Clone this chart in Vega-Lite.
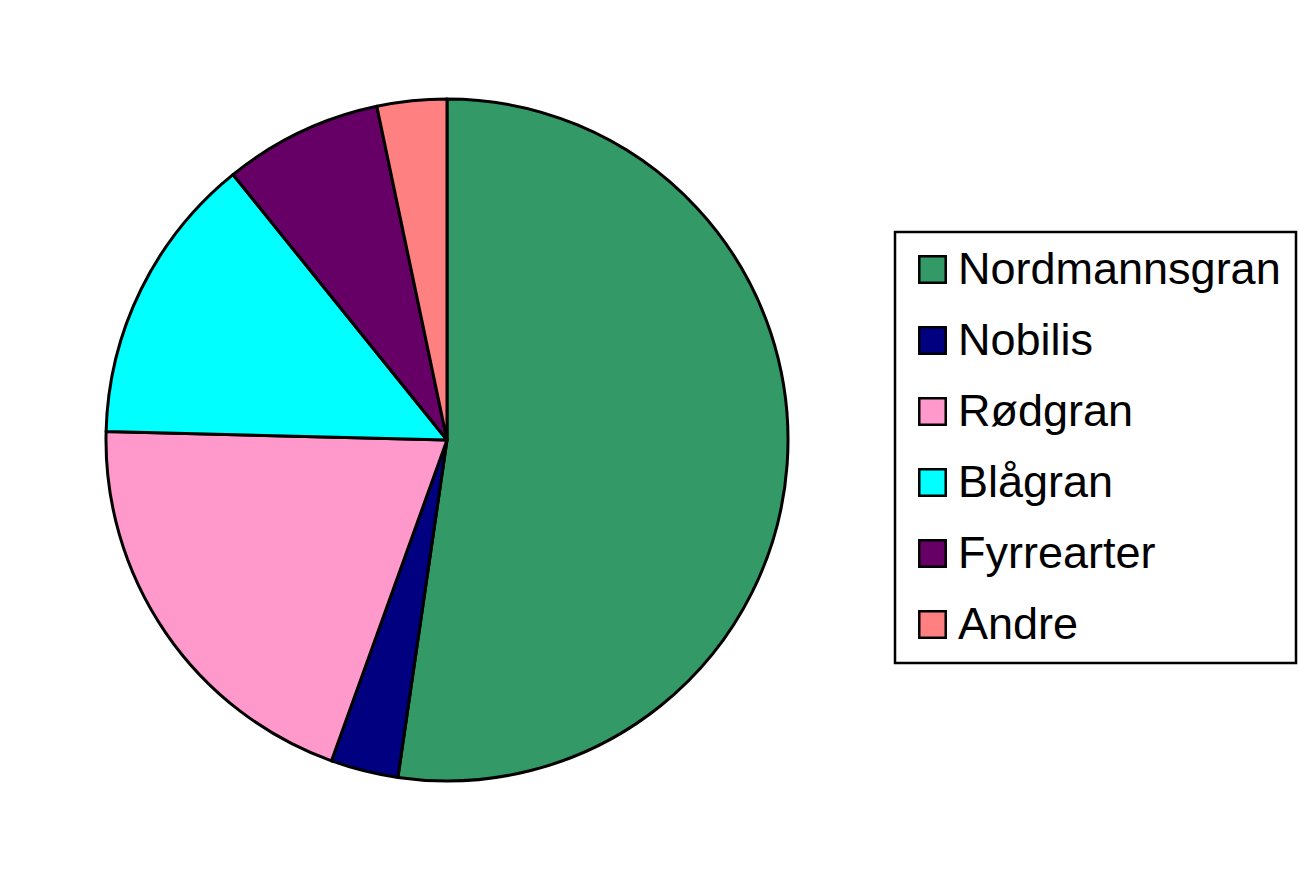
{
  "$schema": "https://vega.github.io/schema/vega-lite/v6.json",
  "width": 894,
  "height": 860,
  "padding": {"left": 0, "top": 10, "right": 0, "bottom": 0},
  "background": "white",
  "data": {
    "values": [
      {"art": "Nordmannsgran", "andel": 52.3, "rekke": 1},
      {"art": "Nobilis", "andel": 3.2, "rekke": 2},
      {"art": "Rødgran", "andel": 19.9, "rekke": 3},
      {"art": "Blågran", "andel": 13.8, "rekke": 4},
      {"art": "Fyrrearter", "andel": 7.5, "rekke": 5},
      {"art": "Andre", "andel": 3.3, "rekke": 6}
    ]
  },
  "mark": {"type": "arc", "outerRadius": 341, "stroke": "black", "strokeWidth": 3, "strokeJoin": "round"},
  "encoding": {
    "theta": {"field": "andel", "type": "quantitative", "stack": true},
    "order": {"field": "rekke", "type": "quantitative"},
    "color": {
      "field": "art",
      "type": "nominal",
      "sort": ["Nordmannsgran", "Nobilis", "Rødgran", "Blågran", "Fyrrearter", "Andre"],
      "scale": {
        "domain": ["Nordmannsgran", "Nobilis", "Rødgran", "Blågran", "Fyrrearter", "Andre"],
        "range": ["#339966", "#000080", "#FF99CC", "#00FFFF", "#660066", "#FF8080"]
      },
      "legend": {
        "title": null,
        "orient": "none",
        "legendX": 895,
        "legendY": 222,
        "symbolType": "square",
        "symbolSize": 700,
        "symbolStrokeColor": "black",
        "symbolStrokeWidth": 2.5,
        "symbolOpacity": 1,
        "labelFont": "Liberation Sans",
        "labelFontSize": 45,
        "labelColor": "black",
        "labelOffset": 3,
        "labelLimit": 500,
        "rowPadding": 25,
        "padding": 15,
        "fillColor": "white",
        "strokeColor": "black",
        "encode": {
          "legend": {"update": {"strokeWidth": {"value": 2.5}}}
        }
      }
    }
  },
  "config": {
    "view": {"stroke": null}
  }
}
